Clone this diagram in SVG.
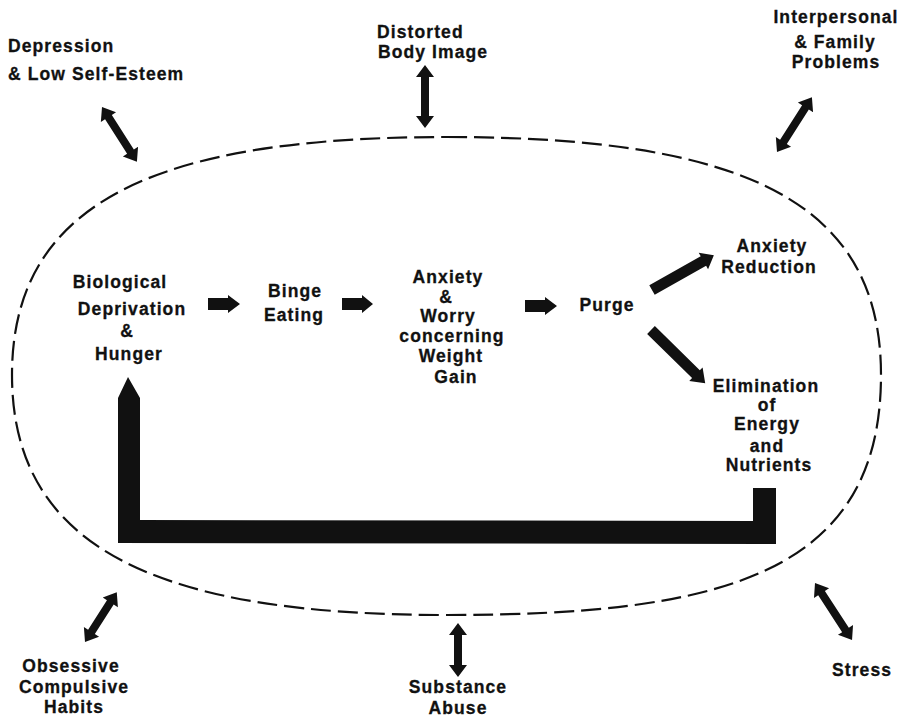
<svg xmlns="http://www.w3.org/2000/svg" width="909" height="719" viewBox="0 0 909 719">
<style>
text{font-family:"Liberation Sans",Arial,sans-serif;font-weight:bold;font-size:17.5px;letter-spacing:1.1px;fill:#111;stroke:#111;stroke-width:0.3;text-anchor:middle}
.st{text-anchor:start}
.blk{fill:#111;stroke:none}
.ell{fill:none;stroke:#111;stroke-width:2.2;stroke-dasharray:20 7}
</style>
<rect width="909" height="719" fill="#fff"/>
<g id="boundary">
<path class="ell" d="M447,137 C750,137 881,205 881,375 C881,575 720,615 447,615 C170,615 12,555 12,375 C12,200 160,137 447,137 Z"/>
</g>
<g id="connectors">
<polygon class="blk" points="208,298 228,298 228,295 240,304 228,313 228,310 208,310"/>
<polygon class="blk" points="342,298 362,298 362,295 373,304 362,313 362,310 342,310"/>
<polygon class="blk" points="525,300 545,300 545,297 557,306 545,315 545,312 525,312"/>
<polygon class="blk" transform="translate(652,290) rotate(-29.4)" points="0,-5.5 59,-5.5 59,-9.5 71,0 59,9.5 59,5.5 0,5.5"/>
<polygon class="blk" transform="translate(651,330) rotate(44.5)" points="0,-5.5 63,-5.5 63,-9.5 76,0 63,9.5 63,5.5 0,5.5"/>
<polygon class="blk" points="128,377 140,398 140,520 753,521 753,488 776,488 776,544 118,543 118,398"/>
<polygon class="blk" transform="translate(102,107) rotate(57.5)" points="0,0 12,-9 12,-4 53,-4 53,-9 65,0 53,9 53,4 12,4 12,9"/>
<polygon class="blk" transform="translate(425,65) rotate(90)" points="0,0 12,-9 12,-4 51,-4 51,-9 63,0 51,9 51,4 12,4 12,9"/>
<polygon class="blk" transform="translate(777,152) rotate(-57.5)" points="0,0 12,-9 12,-4 53,-4 53,-9 65,0 53,9 53,4 12,4 12,9"/>
<polygon class="blk" transform="translate(85,642) rotate(-57.4)" points="0,0 12,-9 12,-4 47,-4 47,-9 59,0 47,9 47,4 12,4 12,9"/>
<polygon class="blk" transform="translate(458,623) rotate(90)" points="0,0 12,-9 12,-4 42,-4 42,-9 54,0 42,9 42,4 12,4 12,9"/>
<polygon class="blk" transform="translate(815,583) rotate(57)" points="0,0 12,-9 12,-4 56,-4 56,-9 68,0 56,9 56,4 12,4 12,9"/>
</g>
<g id="depression"><text class="st" x="8" y="52">Depression</text><text class="st" x="8" y="80">&amp; Low Self-Esteem</text></g>
<g id="body-image"><text class="st" x="377" y="38">Distorted</text><text class="st" x="378" y="58">Body Image</text></g>
<g id="interpersonal"><text x="836" y="23">Interpersonal</text><text x="835" y="48">&amp; Family</text><text x="836" y="68">Problems</text></g>
<g id="biological"><text x="120" y="288">Biological</text><text x="132" y="315">Deprivation</text><text x="127" y="337">&amp;</text><text x="129" y="360">Hunger</text></g>
<g id="binge"><text x="295" y="297">Binge</text><text x="294" y="321">Eating</text></g>
<g id="anxiety-worry"><text x="448" y="283">Anxiety</text><text x="446" y="303">&amp;</text><text x="448" y="322">Worry</text><text x="452" y="342">concerning</text><text x="451" y="362">Weight</text><text x="456" y="383">Gain</text></g>
<g id="purge"><text x="607" y="311">Purge</text></g>
<g id="anxiety-reduction"><text x="772" y="252">Anxiety</text><text x="769" y="273">Reduction</text></g>
<g id="elimination"><text x="766" y="392">Elimination</text><text x="767" y="411">of</text><text x="767" y="430">Energy</text><text x="767" y="452">and</text><text x="769" y="471">Nutrients</text></g>
<g id="obsessive"><text x="71" y="672">Obsessive</text><text x="74" y="693">Compulsive</text><text x="74" y="713">Habits</text></g>
<g id="substance"><text x="458" y="693">Substance</text><text x="458" y="714">Abuse</text></g>
<g id="stress"><text x="862" y="676">Stress</text></g>
</svg>
